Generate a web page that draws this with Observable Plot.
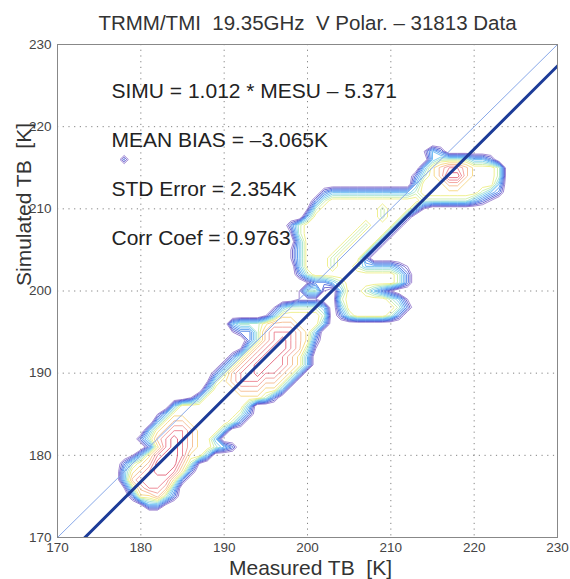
<!DOCTYPE html>
<html><head><meta charset="utf-8">
<script src="https://cdn.jsdelivr.net/npm/d3@7"></script>
<script src="https://cdn.jsdelivr.net/npm/@observablehq/plot@0.6"></script>
<style>
body{margin:0;background:#fff;}
#chart svg{font-family:"Liberation Sans",Arial,Helvetica,sans-serif;}
</style>
</head><body><div id="chart"></div>
<script>
// ---- text ----
const titleText = "TRMM/TMI\u00a0\u00a019.35GHz\u00a0\u00a0V Polar. \u2013 31813 Data";
const xLabel = "Measured TB\u00a0\u00a0[K]";
const yLabel = "Simulated TB\u00a0\u00a0[K]";
const statLines = ["SIMU = 1.012 * MESU \u2013 5.371", "MEAN BIAS = \u20133.065K", "STD Error = 2.354K", "Corr Coef = 0.9763"];

// ---- axes ----
const axisDomain = [170, 230];
const tickValues = [170, 180, 190, 200, 210, 220, 230];

// ---- regression fit ----
const fitSlope = 1.012;
const fitIntercept = -5.371;

// ---- density grid (1 K cells) ----
// each row: [simulated TB, first measured TB, density levels 0-9 for consecutive 1 K cells]
const gridXFirst = 176, gridXLast = 225;
const gridYTop = 218, gridYBottom = 173;
const densityRows = [
  [217, 214, "132"],
  [216, 178, "2"],
  [216, 215, "34444332"],
  [215, 214, "3567765554"],
  [214, 213, "24568865554"],
  [213, 213, "35556655553"],
  [212, 202, "2333333333345555555432"],
  [211, 201, "2455555555555444444321"],
  [210, 200, "145555555455531"],
  [209, 200, "3555555554552"],
  [208, 198, "24555555545552"],
  [207, 198, "1455555545552"],
  [206, 199, "35555545552"],
  [205, 198, "13555545552"],
  [204, 198, "1355545552"],
  [203, 199, "35554554333321"],
  [202, 199, "24555555555542"],
  [201, 200, "1223455555542"],
  [200, 199, "144103554321"],
  [199, 199, "11100455555431"],
  [198, 196, "13444430355555542"],
  [197, 195, "13555554024555542"],
  [196, 191, "344456665553"],
  [195, 191, "12246777653"],
  [194, 193, "246787652"],
  [193, 192, "1467887641"],
  [192, 191, "2467887653"],
  [191, 190, "24678877653"],
  [190, 189, "24677877653"],
  [189, 188, "14567776653"],
  [188, 188, "3555666553"],
  [187, 186, "13555555542"],
  [186, 184, "3555555553"],
  [185, 182, "135555555542"],
  [184, 182, "35665555542"],
  [183, 181, "3567765553"],
  [182, 180, "2467876553"],
  [181, 181, "25787655432"],
  [180, 179, "1357887553"],
  [179, 178, "2456888641"],
  [178, 178, "356788752"],
  [177, 178, "36777752"],
  [176, 178, "1467763"],
  [175, 179, "255642"],
  [174, 180, "1331"]
];

// contour levels and their colours (jet-like, as scanned)
const levels = [1, 1.4, 1.8, 2.2, 2.6, 3, 3.4, 3.8, 4.2, 4.6, 5.2, 5.8, 6.4, 7, 7.6];
const levelColors = ["#8a6cc8", "#5048c4", "#3656d8", "#306ee4", "#3c8cec", "#50aef0", "#6ac8ea", "#96dec8", "#c4eca0", "#ecec76", "#f6d070", "#f4b280", "#f0928c", "#ea7080", "#de4c66"];

// ---- build grid table ----
const W = gridXLast - gridXFirst + 1;
const H = gridYTop - gridYBottom + 1;
const grid = new Array(W * H).fill(0);
for (const [y, x0, s] of densityRows) {
  const r = gridYTop - y;
  for (let i = 0; i < s.length; i++) {
    const c = x0 + i - gridXFirst;
    if (c >= 0 && c < W && r >= 0 && r < H) grid[r * W + c] = +s[i];
  }
}

const font = "'Liberation Sans', Arial, Helvetica, sans-serif";
const statOffsets = [47, 96, 145, 194];

const plot = Plot.plot({
  width: 570,
  height: 579,
  marginLeft: 57,
  marginRight: 13,
  marginTop: 44,
  marginBottom: 42,
  style: {fontFamily: font, fontSize: "13px", color: "#444", background: "#fff"},
  x: {domain: axisDomain, ticks: tickValues, label: null},
  y: {domain: axisDomain, ticks: tickValues, label: null},
  color: {type: "linear", domain: levels, range: levelColors},
  marks: [
    Plot.gridX(tickValues.slice(1, -1), {stroke: "#777", strokeOpacity: 0.9, strokeDasharray: "1.2,4.5"}),
    Plot.gridY(tickValues.slice(1, -1), {stroke: "#777", strokeOpacity: 0.9, strokeDasharray: "1.2,4.5"}),
    Plot.contour(grid, {
      value: (d) => d,
      width: W, height: H,
      x1: gridXFirst - 0.5, x2: gridXLast + 0.5,
      y1: gridYTop + 0.5, y2: gridYBottom - 0.5,
      thresholds: levels,
      blur: 0,
      fill: "none",
      stroke: "value",
      strokeWidth: 0.8
    }),
    Plot.line(axisDomain, {x: (d) => d, y: (d) => d, stroke: "#88a8e8", strokeWidth: 1}),
    Plot.line(axisDomain, {x: (d) => d, y: (d) => fitSlope * d + fitIntercept, stroke: "#1d3c98", strokeWidth: 3, clip: true}),
    Plot.frame({stroke: "#888"}),
    Plot.axisX({ticks: tickValues, tickSize: 0, tickPadding: 5, fontSize: 13.5, label: null, fill: "#444"}),
    Plot.axisY({ticks: tickValues, tickSize: 0, tickPadding: 6, fontSize: 13.5, label: null, fill: "#444"}),
    Plot.text([titleText], {frameAnchor: "top", dy: -21, lineAnchor: "middle", fontSize: 20.5, fill: "#333"}),
    Plot.text([xLabel], {frameAnchor: "bottom", dx: 3, dy: 31, lineAnchor: "middle", fontSize: 21, fill: "#333"}),
    Plot.text([yLabel], {frameAnchor: "left", dx: -33, dy: -5, rotate: -90, lineAnchor: "middle", fontSize: 21, fill: "#333"}),
    ...statLines.map((s, i) => Plot.text([s], {frameAnchor: "top-left", dx: 54, dy: statOffsets[i], textAnchor: "start", lineAnchor: "middle", fontSize: 21, fill: "#222"}))
  ]
});
document.getElementById("chart").appendChild(plot);
</script>
</body></html>
